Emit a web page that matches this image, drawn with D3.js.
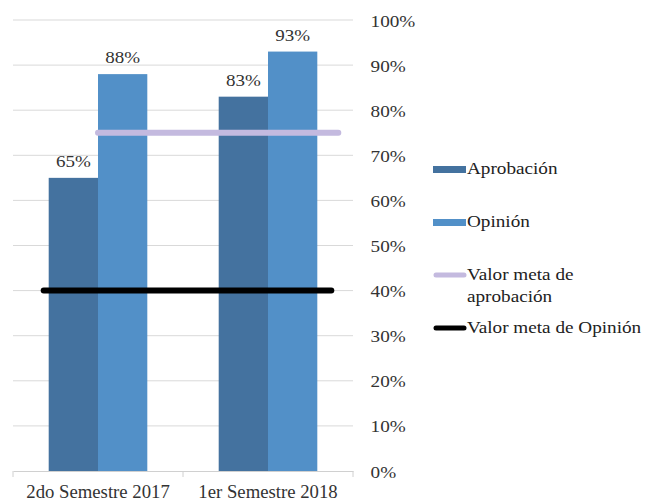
<!DOCTYPE html>
<html>
<head>
<meta charset="utf-8">
<script src="https://cdn.jsdelivr.net/npm/d3@7"></script>
<style>
  body { margin: 0; background: #fff; }
</style>
</head>
<body>
<div id="chart"></div>
<script>
// data
var categories = ["2do Semestre 2017", "1er Semestre 2018"];
var series = ["Aprobación", "Opinión"];
var aprobacion = [0.65, 0.83];
var opinion = [0.88, 0.93];
var metaAprobacion = 0.75;
var metaOpinion = 0.40;
var yTicks = [0, 0.1, 0.2, 0.3, 0.4, 0.5, 0.6, 0.7, 0.8, 0.9, 1.0];

var colors = { "Aprobación": "#44729f", "Opinión": "#5290c8" };
var FONT = "Liberation Serif";

var width = 645, height = 501;
var margin = { left: 13, right: 292, top: 20, bottom: 30 };
var plotW = width - margin.left - margin.right;
var plotH = height - margin.top - margin.bottom;

var svg = d3.select("#chart")
    .append("svg")
    .attr("width", width)
    .attr("height", height);

var g = svg.append("g")
    .attr("transform", "translate(" + margin.left + "," + margin.top + ")");

var x0 = d3.scaleBand().domain(categories).range([0, plotW]).paddingInner(0.42).paddingOuter(0.21);
var x1 = d3.scaleBand().domain(series).range([0, x0.bandwidth()]);
var y = d3.scaleLinear().domain([0, 1]).range([plotH, 0]);

// text placed at (x,y), stretched sideways a little like the original
function label(parent, x, y, str, anchor, size, sx, color) {
    return parent.append("g")
        .attr("transform", "translate(" + x + "," + y + ")")
        .append("text")
        .attr("transform", "scale(" + sx + ",1)")
        .attr("text-anchor", anchor)
        .style("font-family", FONT)
        .style("font-size", size + "px")
        .style("fill", color || "#333")
        .text(str);
}

// gridlines
g.selectAll(".grid")
    .data(yTicks.filter(function (d) { return d > 0; }))
    .enter().append("line")
    .attr("x1", 0).attr("x2", plotW)
    .attr("y1", function (d) { return y(d); })
    .attr("y2", function (d) { return y(d); })
    .style("stroke", "#d9d9d9")
    .style("stroke-width", 1);

// bottom axis
var xAxis = g.append("g")
    .attr("transform", "translate(0," + plotH + ")")
    .call(d3.axisBottom(x0).tickSize(0).tickPadding(14));
xAxis.select(".domain").style("stroke", "#d0d0d0");
xAxis.selectAll("text")
    .attr("transform", "scale(1.04,1)")
    .style("font-family", FONT)
    .style("font-size", "18px")
    .style("fill", "#333");
// category separators
g.selectAll(".sep")
    .data([0, plotW / 2, plotW])
    .enter().append("line")
    .attr("x1", function (d) { return d; }).attr("x2", function (d) { return d; })
    .attr("y1", plotH).attr("y2", plotH + 6)
    .style("stroke", "#d0d0d0");

// right axis labels
var yAxis = g.append("g")
    .attr("transform", "translate(" + (plotW + 2) + ",0)")
    .call(d3.axisRight(y).tickValues(yTicks).tickFormat(d3.format(".0%")).tickSize(0).tickPadding(13));
yAxis.select(".domain").remove();
yAxis.selectAll("text")
    .attr("transform", "scale(1.2,1)")
    .attr("dy", "0.38em")
    .style("font-family", FONT)
    .style("font-size", "16px")
    .style("fill", "#333");

// bars
var rows = categories.map(function (c, i) {
    return { cat: c, values: [{ s: "Aprobación", v: aprobacion[i] }, { s: "Opinión", v: opinion[i] }] };
});

var groups = g.selectAll(".grp")
    .data(rows)
    .enter().append("g")
    .attr("transform", function (d) { return "translate(" + x0(d.cat) + ",0)"; });

groups.selectAll("rect")
    .data(function (d) { return d.values; })
    .enter().append("rect")
    .attr("x", function (d) { return x1(d.s); })
    .attr("y", function (d) { return y(d.v); })
    .attr("width", x1.bandwidth())
    .attr("height", function (d) { return plotH - y(d.v); })
    .style("fill", function (d) { return colors[d.s]; });

groups.each(function (row) {
    var grp = d3.select(this);
    row.values.forEach(function (d) {
        label(grp, x1(d.s) + x1.bandwidth() / 2, y(d.v) - 11, Math.round(d.v * 100) + "%", "middle", 17, 1.12);
    });
});

// target lines
var firstCat = x0(categories[0]), lastCat = x0(categories[1]);
g.append("line")
    .attr("x1", firstCat + x1("Opinión"))
    .attr("x2", lastCat + x0.bandwidth() + 21)
    .attr("y1", y(metaAprobacion)).attr("y2", y(metaAprobacion))
    .style("stroke", "#c4badf")
    .style("stroke-width", 6)
    .style("stroke-linecap", "round");

g.append("line")
    .attr("x1", firstCat - 5)
    .attr("x2", lastCat + x0.bandwidth() + 14)
    .attr("y1", y(metaOpinion)).attr("y2", y(metaOpinion))
    .style("stroke", "#000")
    .style("stroke-width", 6)
    .style("stroke-linecap", "round");

// legend
var legend = svg.append("g").attr("transform", "translate(433,0)");
var legendItems = [
    { label: ["Aprobación"], y: 169, type: "rect", color: colors["Aprobación"] },
    { label: ["Opinión"], y: 222, type: "rect", color: colors["Opinión"] },
    { label: ["Valor meta de", "aprobación"], y: 275, type: "line", color: "#c4badf" },
    { label: ["Valor meta de Opinión"], y: 328, type: "line", color: "#000" }
];
legendItems.forEach(function (d) {
    if (d.type === "rect") {
        legend.append("rect").attr("x", 0).attr("y", d.y - 3).attr("width", 33).attr("height", 7).style("fill", d.color);
    } else {
        legend.append("line").attr("x1", 3).attr("x2", 31).attr("y1", d.y).attr("y2", d.y)
            .style("stroke", d.color).style("stroke-width", 5).style("stroke-linecap", "round");
    }
    d.label.forEach(function (t, i) {
        label(legend, 34, d.y + 5 + i * 22, t, "start", 16, 1.2, "#222");
    });
});
</script>
</body>
</html>
